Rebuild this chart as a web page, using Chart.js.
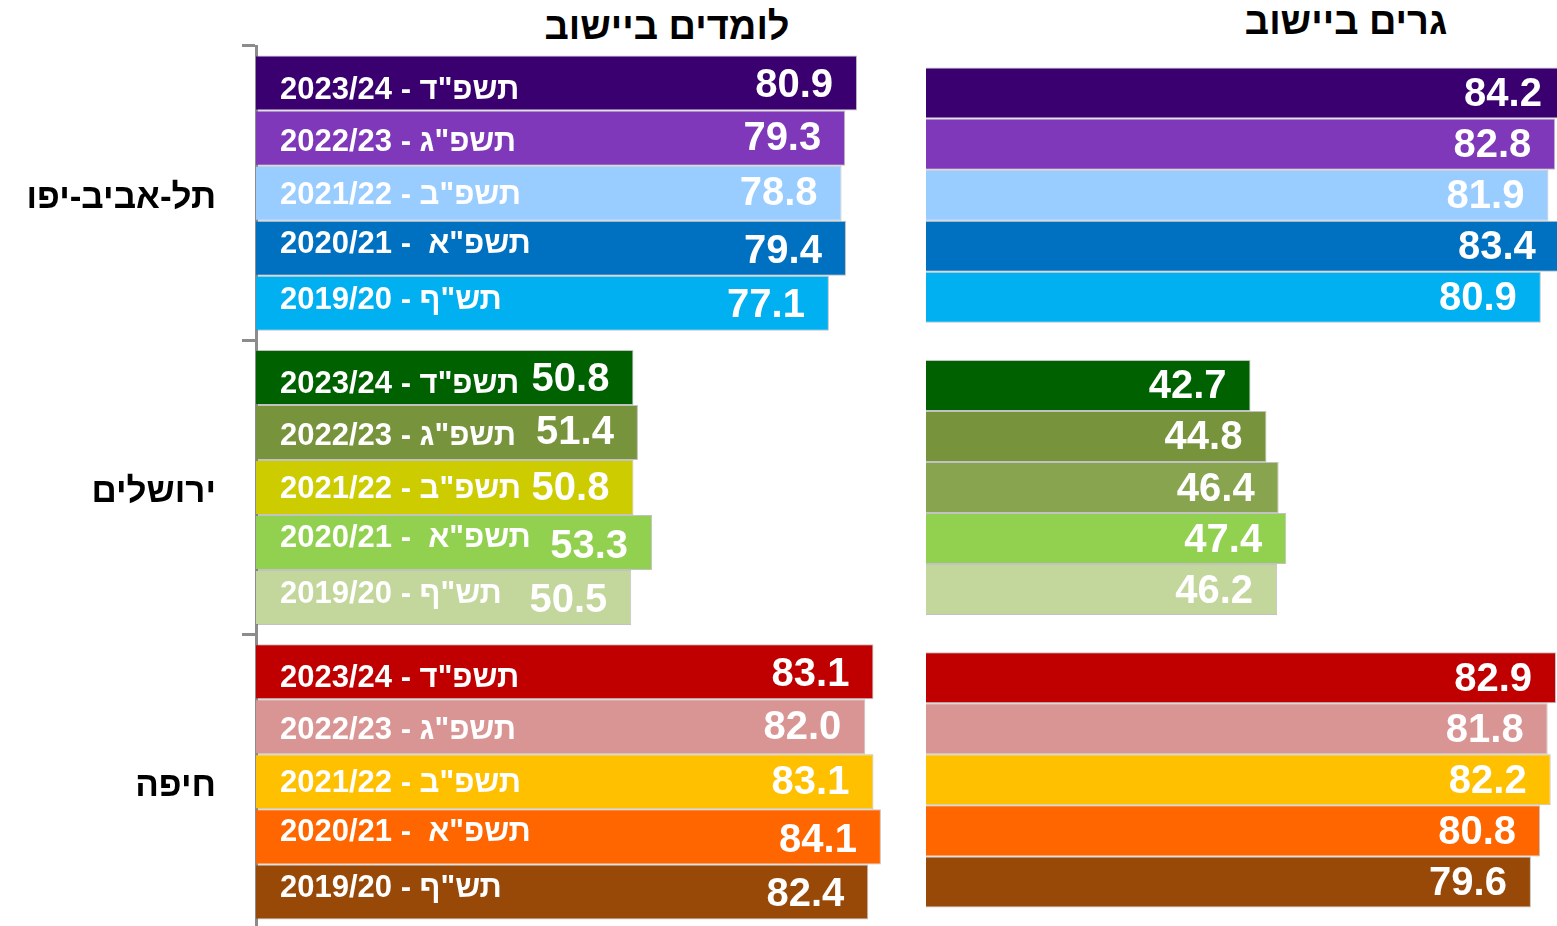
<!DOCTYPE html>
<html><head><meta charset="utf-8">
<script src="https://cdn.jsdelivr.net/npm/chart.js@4.4.1/dist/chart.umd.min.js"></script>
<style>
html,body{margin:0;padding:0;background:#fff;width:1557px;height:926px;overflow:hidden;}
#wrapL{position:absolute;left:0;top:0;width:926px;height:929px;}
#wrapR{position:absolute;left:926px;top:0;width:631px;height:926px;}
.title{position:absolute;font:bold 38px "Liberation Sans",Arial,sans-serif;color:#000;direction:rtl;white-space:nowrap;transform:translateX(-50%);line-height:44px;}
</style></head><body>
<div class="title" style="left:667px;top:4px">לומדים ביישוב</div>
<div class="title" style="left:1346px;top:-1px">גרים ביישוב</div>
<div id="wrapL"><canvas id="cL" width="926" height="929"></canvas></div>
<div id="wrapR"><canvas id="cR" width="631" height="926"></canvas></div>
<script>
// ---- data ----
const cities = ['תל-אביב-יפו', 'ירושלים', 'חיפה'];
const yearLabels = ['2023/24 - תשפ"ד', '2022/23 - תשפ"ג', '2021/22 - תשפ"ב', '2020/21 -  תשפ"א', '2019/20 - תש"ף'];
// learn in city (left panel), ordered 2023/24 ... 2019/20
const learnTelAviv = [80.9, 79.3, 78.8, 79.4, 77.1];
const learnJerusalem = [50.8, 51.4, 50.8, 53.3, 50.5];
const learnHaifa = [83.1, 82.0, 83.1, 84.1, 82.4];
// live in city (right panel)
const liveTelAviv = [84.2, 82.8, 81.9, 83.4, 80.9];
const liveJerusalem = [42.7, 44.8, 46.4, 47.4, 46.2];
const liveHaifa = [82.9, 81.8, 82.2, 80.8, 79.6];

// ---- styles ----
const colTelAviv = ['#3b0070', '#7f38b9', '#99ccff', '#0070c0', '#00b0f0'];
const colJerusalemL = ['#006100', '#77933c', '#cccc00', '#92d050', '#c3d69b'];
const colJerusalemR = ['#006100', '#77933c', '#88a44e', '#92d050', '#c3d69b'];
const colHaifa = ['#c00000', '#d99594', '#ffc000', '#ff6600', '#984807'];
const yearTextDy = [7, 4, 2, -4, -3];
const valueTextDy = [3, 1, 1, 4, 3];
const FONT = '"Liberation Sans", Arial, sans-serif';

function buildDatasets(ta, jer, hai, colJer) {
  return yearLabels.map((y, i) => ({
    label: y,
    data: [ta[i], jer[i], hai[i]],
    backgroundColor: [colTelAviv[i], colJer[i], colHaifa[i]],
    borderColor: 'rgba(120,120,120,0.45)',
    borderWidth: 1,
    categoryPercentage: 1,
    barPercentage: 1
  }));
}

const labelPlugin = {
  id: 'barLabels',
  afterDatasetsDraw(chart, args, opts) {
    const ctx = chart.ctx;
    ctx.save();
    ctx.fillStyle = '#fff';
    ctx.textBaseline = 'middle';
    ctx.direction = 'ltr';
    chart.data.datasets.forEach((ds, di) => {
      const meta = chart.getDatasetMeta(di);
      meta.data.forEach((bar, i) => {
        const v = ds.data[i];
        ctx.font = 'bold 40px ' + FONT;
        ctx.textAlign = 'right';
        ctx.fillText(v.toFixed(1), bar.x - 24, bar.y + (opts.showYear ? valueTextDy[di] : 2));
        if (opts.showYear) {
          ctx.font = 'bold 31px ' + FONT;
          ctx.textAlign = 'left';
          ctx.fillText(ds.label, bar.base + 24, bar.y + yearTextDy[di]);
        }
      });
    });
    ctx.restore();
  }
};

Chart.defaults.font.family = FONT;

const dsL = buildDatasets(learnTelAviv, learnJerusalem, learnHaifa, colJerusalemL);
dsL.forEach(d => { d.categoryPercentage = 0.935; });
new Chart(document.getElementById('cL'), {
  type: 'bar',
  data: { labels: cities, datasets: dsL },
  options: {
    indexAxis: 'y',
    responsive: false,
    animation: false,
    devicePixelRatio: 1,
    layout: { padding: { top: 46, bottom: 0, left: 0, right: 0 } },
    plugins: { legend: { display: false }, tooltip: { enabled: false }, barLabels: { showYear: true } },
    scales: {
      x: { display: false, min: 0, max: 90.17 },
      y: {
        position: 'left',
        afterFit(s) { s.width = 256; s.paddingTop = 0; s.paddingBottom = 0; },
        grid: { display: true, offset: true, drawOnChartArea: false, drawTicks: true, tickLength: 14, color: '#8c8c8c', lineWidth: 3 },
        border: { display: true, color: '#8c8c8c', width: 3 },
        ticks: { color: '#000', padding: 26, labelOffset: 5, font: { family: FONT, size: 35, weight: 'bold' } }
      }
    }
  },
  plugins: [labelPlugin]
});

const dsR = buildDatasets(liveTelAviv, liveJerusalem, liveHaifa, colJerusalemR);
dsR.forEach(d => { d.categoryPercentage = 0.873; });
new Chart(document.getElementById('cR'), {
  type: 'bar',
  data: { labels: cities, datasets: dsR },
  options: {
    indexAxis: 'y',
    responsive: false,
    animation: false,
    devicePixelRatio: 1,
    layout: { padding: { top: 49, bottom: 0, left: 0, right: 0 } },
    plugins: { legend: { display: false }, tooltip: { enabled: false }, barLabels: { showYear: false } },
    scales: {
      x: { display: false, min: 0, max: 83.03 },
      y: { display: false }
    }
  },
  plugins: [labelPlugin]
});
</script>
</body></html>
